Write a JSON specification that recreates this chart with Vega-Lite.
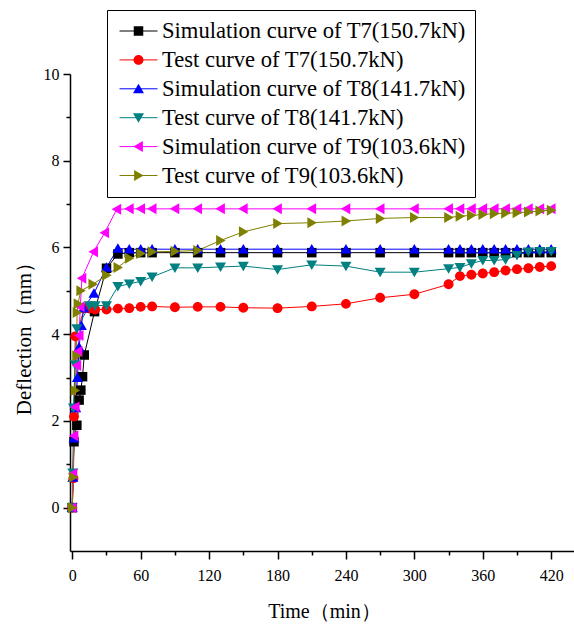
{
  "$schema": "https://vega.github.io/schema/vega-lite/v6.json",
  "autosize": "none",
  "width": 504,
  "height": 477,
  "padding": {"left": 70, "top": 74, "right": 0, "bottom": 73},
  "background": "white",
  "config": {
    "view": {"stroke": null},
    "axis": {
      "grid": false,
      "domainColor": "black",
      "domainWidth": 1.5,
      "tickColor": "black",
      "tickWidth": 1.5,
      "labelFont": "Liberation Sans Narrow",
      "labelFontSize": 16,
      "labelColor": "black",
      "titleFont": "Liberation Serif",
      "titleFontSize": 20,
      "titleFontWeight": "normal",
      "titleColor": "black"
    },
    "legend": {
      "title": null,
      "orient": "none",
      "legendX": 37,
      "legendY": -64,
      "padding": 9,
      "symbolSize": 1444,
      "symbolStrokeWidth": 1,
      "clipHeight": 24,
      "rowPadding": 4.9,
      "symbolOffset": 3,
      "labelOffset": 4,
      "labelFont": "Liberation Serif",
      "labelFontSize": 22.6,
      "labelColor": "black",
      "labelLimit": 400,
      "labelExpr": "(indexof(datum.label, 'Test') == 0 ? '\u2009' : '') + datum.label"
    }
  },
  "data": {
    "values": [
      {"series": "Simulation curve of T7(150.7kN)", "t": 0, "d": 0},
      {"series": "Simulation curve of T7(150.7kN)", "t": 1.5, "d": 1.52},
      {"series": "Simulation curve of T7(150.7kN)", "t": 4, "d": 1.9},
      {"series": "Simulation curve of T7(150.7kN)", "t": 6, "d": 2.48},
      {"series": "Simulation curve of T7(150.7kN)", "t": 7.5, "d": 2.71},
      {"series": "Simulation curve of T7(150.7kN)", "t": 9, "d": 3.02},
      {"series": "Simulation curve of T7(150.7kN)", "t": 10.5, "d": 3.52},
      {"series": "Simulation curve of T7(150.7kN)", "t": 19.5, "d": 4.52},
      {"series": "Simulation curve of T7(150.7kN)", "t": 30, "d": 5.52},
      {"series": "Simulation curve of T7(150.7kN)", "t": 40, "d": 5.85},
      {"series": "Simulation curve of T7(150.7kN)", "t": 50, "d": 5.88},
      {"series": "Simulation curve of T7(150.7kN)", "t": 60, "d": 5.88},
      {"series": "Simulation curve of T7(150.7kN)", "t": 70, "d": 5.88},
      {"series": "Simulation curve of T7(150.7kN)", "t": 90, "d": 5.88},
      {"series": "Simulation curve of T7(150.7kN)", "t": 110, "d": 5.88},
      {"series": "Simulation curve of T7(150.7kN)", "t": 130, "d": 5.88},
      {"series": "Simulation curve of T7(150.7kN)", "t": 150, "d": 5.88},
      {"series": "Simulation curve of T7(150.7kN)", "t": 180, "d": 5.88},
      {"series": "Simulation curve of T7(150.7kN)", "t": 210, "d": 5.88},
      {"series": "Simulation curve of T7(150.7kN)", "t": 240, "d": 5.88},
      {"series": "Simulation curve of T7(150.7kN)", "t": 270, "d": 5.88},
      {"series": "Simulation curve of T7(150.7kN)", "t": 300, "d": 5.88},
      {"series": "Simulation curve of T7(150.7kN)", "t": 330, "d": 5.88},
      {"series": "Simulation curve of T7(150.7kN)", "t": 340, "d": 5.88},
      {"series": "Simulation curve of T7(150.7kN)", "t": 350, "d": 5.88},
      {"series": "Simulation curve of T7(150.7kN)", "t": 360, "d": 5.88},
      {"series": "Simulation curve of T7(150.7kN)", "t": 370, "d": 5.88},
      {"series": "Simulation curve of T7(150.7kN)", "t": 380, "d": 5.88},
      {"series": "Simulation curve of T7(150.7kN)", "t": 390, "d": 5.88},
      {"series": "Simulation curve of T7(150.7kN)", "t": 400, "d": 5.88},
      {"series": "Simulation curve of T7(150.7kN)", "t": 410, "d": 5.88},
      {"series": "Simulation curve of T7(150.7kN)", "t": 420, "d": 5.88},

      {"series": "Test curve of T7(150.7kN)", "t": 0, "d": 0},
      {"series": "Test curve of T7(150.7kN)", "t": 1, "d": 0.68},
      {"series": "Test curve of T7(150.7kN)", "t": 1.5, "d": 2.1},
      {"series": "Test curve of T7(150.7kN)", "t": 2.6, "d": 3.95},
      {"series": "Test curve of T7(150.7kN)", "t": 11, "d": 4.6},
      {"series": "Test curve of T7(150.7kN)", "t": 15, "d": 4.59},
      {"series": "Test curve of T7(150.7kN)", "t": 20, "d": 4.57},
      {"series": "Test curve of T7(150.7kN)", "t": 30, "d": 4.57},
      {"series": "Test curve of T7(150.7kN)", "t": 40, "d": 4.59},
      {"series": "Test curve of T7(150.7kN)", "t": 50, "d": 4.6},
      {"series": "Test curve of T7(150.7kN)", "t": 60, "d": 4.63},
      {"series": "Test curve of T7(150.7kN)", "t": 70, "d": 4.64},
      {"series": "Test curve of T7(150.7kN)", "t": 90, "d": 4.62},
      {"series": "Test curve of T7(150.7kN)", "t": 110, "d": 4.63},
      {"series": "Test curve of T7(150.7kN)", "t": 130, "d": 4.63},
      {"series": "Test curve of T7(150.7kN)", "t": 150, "d": 4.61},
      {"series": "Test curve of T7(150.7kN)", "t": 180, "d": 4.6},
      {"series": "Test curve of T7(150.7kN)", "t": 210, "d": 4.64},
      {"series": "Test curve of T7(150.7kN)", "t": 240, "d": 4.7},
      {"series": "Test curve of T7(150.7kN)", "t": 270, "d": 4.84},
      {"series": "Test curve of T7(150.7kN)", "t": 300, "d": 4.92},
      {"series": "Test curve of T7(150.7kN)", "t": 330, "d": 5.15},
      {"series": "Test curve of T7(150.7kN)", "t": 340, "d": 5.34},
      {"series": "Test curve of T7(150.7kN)", "t": 350, "d": 5.37},
      {"series": "Test curve of T7(150.7kN)", "t": 360, "d": 5.4},
      {"series": "Test curve of T7(150.7kN)", "t": 370, "d": 5.43},
      {"series": "Test curve of T7(150.7kN)", "t": 380, "d": 5.47},
      {"series": "Test curve of T7(150.7kN)", "t": 390, "d": 5.5},
      {"series": "Test curve of T7(150.7kN)", "t": 400, "d": 5.52},
      {"series": "Test curve of T7(150.7kN)", "t": 410, "d": 5.55},
      {"series": "Test curve of T7(150.7kN)", "t": 420, "d": 5.57},

      {"series": "Simulation curve of T8(141.7kN)", "t": 0, "d": 0},
      {"series": "Simulation curve of T8(141.7kN)", "t": 0.5, "d": 0.7},
      {"series": "Simulation curve of T8(141.7kN)", "t": 1.5, "d": 1.6},
      {"series": "Simulation curve of T8(141.7kN)", "t": 3, "d": 2.3},
      {"series": "Simulation curve of T8(141.7kN)", "t": 4.5, "d": 3.0},
      {"series": "Simulation curve of T8(141.7kN)", "t": 6, "d": 3.7},
      {"series": "Simulation curve of T8(141.7kN)", "t": 8, "d": 4.2},
      {"series": "Simulation curve of T8(141.7kN)", "t": 10, "d": 4.6},
      {"series": "Simulation curve of T8(141.7kN)", "t": 19, "d": 4.94},
      {"series": "Simulation curve of T8(141.7kN)", "t": 30, "d": 5.54},
      {"series": "Simulation curve of T8(141.7kN)", "t": 40, "d": 5.98},
      {"series": "Simulation curve of T8(141.7kN)", "t": 50, "d": 5.96},
      {"series": "Simulation curve of T8(141.7kN)", "t": 60, "d": 5.96},
      {"series": "Simulation curve of T8(141.7kN)", "t": 70, "d": 5.96},
      {"series": "Simulation curve of T8(141.7kN)", "t": 90, "d": 5.96},
      {"series": "Simulation curve of T8(141.7kN)", "t": 110, "d": 5.96},
      {"series": "Simulation curve of T8(141.7kN)", "t": 130, "d": 5.96},
      {"series": "Simulation curve of T8(141.7kN)", "t": 150, "d": 5.96},
      {"series": "Simulation curve of T8(141.7kN)", "t": 180, "d": 5.96},
      {"series": "Simulation curve of T8(141.7kN)", "t": 210, "d": 5.96},
      {"series": "Simulation curve of T8(141.7kN)", "t": 240, "d": 5.96},
      {"series": "Simulation curve of T8(141.7kN)", "t": 270, "d": 5.96},
      {"series": "Simulation curve of T8(141.7kN)", "t": 300, "d": 5.96},
      {"series": "Simulation curve of T8(141.7kN)", "t": 330, "d": 5.96},
      {"series": "Simulation curve of T8(141.7kN)", "t": 340, "d": 5.96},
      {"series": "Simulation curve of T8(141.7kN)", "t": 350, "d": 5.96},
      {"series": "Simulation curve of T8(141.7kN)", "t": 360, "d": 5.96},
      {"series": "Simulation curve of T8(141.7kN)", "t": 370, "d": 5.96},
      {"series": "Simulation curve of T8(141.7kN)", "t": 380, "d": 5.96},
      {"series": "Simulation curve of T8(141.7kN)", "t": 390, "d": 5.96},
      {"series": "Simulation curve of T8(141.7kN)", "t": 400, "d": 5.96},
      {"series": "Simulation curve of T8(141.7kN)", "t": 410, "d": 5.96},
      {"series": "Simulation curve of T8(141.7kN)", "t": 420, "d": 5.96},

      {"series": "Test curve of T8(141.7kN)", "t": 0, "d": 0},
      {"series": "Test curve of T8(141.7kN)", "t": 0.5, "d": 0.8},
      {"series": "Test curve of T8(141.7kN)", "t": 1, "d": 2.3},
      {"series": "Test curve of T8(141.7kN)", "t": 2.5, "d": 3.3},
      {"series": "Test curve of T8(141.7kN)", "t": 4, "d": 4.13},
      {"series": "Test curve of T8(141.7kN)", "t": 15, "d": 4.66},
      {"series": "Test curve of T8(141.7kN)", "t": 20, "d": 4.66},
      {"series": "Test curve of T8(141.7kN)", "t": 30, "d": 4.66},
      {"series": "Test curve of T8(141.7kN)", "t": 40, "d": 5.1},
      {"series": "Test curve of T8(141.7kN)", "t": 50, "d": 5.16},
      {"series": "Test curve of T8(141.7kN)", "t": 60, "d": 5.22},
      {"series": "Test curve of T8(141.7kN)", "t": 70, "d": 5.32},
      {"series": "Test curve of T8(141.7kN)", "t": 90, "d": 5.53},
      {"series": "Test curve of T8(141.7kN)", "t": 110, "d": 5.53},
      {"series": "Test curve of T8(141.7kN)", "t": 130, "d": 5.55},
      {"series": "Test curve of T8(141.7kN)", "t": 150, "d": 5.57},
      {"series": "Test curve of T8(141.7kN)", "t": 180, "d": 5.49},
      {"series": "Test curve of T8(141.7kN)", "t": 210, "d": 5.6},
      {"series": "Test curve of T8(141.7kN)", "t": 240, "d": 5.57},
      {"series": "Test curve of T8(141.7kN)", "t": 270, "d": 5.43},
      {"series": "Test curve of T8(141.7kN)", "t": 300, "d": 5.43},
      {"series": "Test curve of T8(141.7kN)", "t": 330, "d": 5.51},
      {"series": "Test curve of T8(141.7kN)", "t": 340, "d": 5.54},
      {"series": "Test curve of T8(141.7kN)", "t": 350, "d": 5.63},
      {"series": "Test curve of T8(141.7kN)", "t": 360, "d": 5.7},
      {"series": "Test curve of T8(141.7kN)", "t": 370, "d": 5.7},
      {"series": "Test curve of T8(141.7kN)", "t": 380, "d": 5.72},
      {"series": "Test curve of T8(141.7kN)", "t": 390, "d": 5.82},
      {"series": "Test curve of T8(141.7kN)", "t": 400, "d": 5.9},
      {"series": "Test curve of T8(141.7kN)", "t": 410, "d": 5.91},
      {"series": "Test curve of T8(141.7kN)", "t": 420, "d": 5.91},

      {"series": "Simulation curve of T9(103.6kN)", "t": 0, "d": 0},
      {"series": "Simulation curve of T9(103.6kN)", "t": 0.5, "d": 0.78},
      {"series": "Simulation curve of T9(103.6kN)", "t": 1.5, "d": 1.66},
      {"series": "Simulation curve of T9(103.6kN)", "t": 2.5, "d": 2.32},
      {"series": "Simulation curve of T9(103.6kN)", "t": 4, "d": 3.28},
      {"series": "Simulation curve of T9(103.6kN)", "t": 5, "d": 3.6},
      {"series": "Simulation curve of T9(103.6kN)", "t": 6, "d": 3.97},
      {"series": "Simulation curve of T9(103.6kN)", "t": 7, "d": 4.63},
      {"series": "Simulation curve of T9(103.6kN)", "t": 8.5, "d": 5.29},
      {"series": "Simulation curve of T9(103.6kN)", "t": 18.7, "d": 5.9},
      {"series": "Simulation curve of T9(103.6kN)", "t": 28.4, "d": 6.34},
      {"series": "Simulation curve of T9(103.6kN)", "t": 39, "d": 6.88},
      {"series": "Simulation curve of T9(103.6kN)", "t": 50, "d": 6.89},
      {"series": "Simulation curve of T9(103.6kN)", "t": 60, "d": 6.89},
      {"series": "Simulation curve of T9(103.6kN)", "t": 70, "d": 6.89},
      {"series": "Simulation curve of T9(103.6kN)", "t": 90, "d": 6.89},
      {"series": "Simulation curve of T9(103.6kN)", "t": 110, "d": 6.89},
      {"series": "Simulation curve of T9(103.6kN)", "t": 130, "d": 6.89},
      {"series": "Simulation curve of T9(103.6kN)", "t": 150, "d": 6.89},
      {"series": "Simulation curve of T9(103.6kN)", "t": 180, "d": 6.89},
      {"series": "Simulation curve of T9(103.6kN)", "t": 210, "d": 6.89},
      {"series": "Simulation curve of T9(103.6kN)", "t": 240, "d": 6.89},
      {"series": "Simulation curve of T9(103.6kN)", "t": 270, "d": 6.89},
      {"series": "Simulation curve of T9(103.6kN)", "t": 300, "d": 6.89},
      {"series": "Simulation curve of T9(103.6kN)", "t": 330, "d": 6.89},
      {"series": "Simulation curve of T9(103.6kN)", "t": 340, "d": 6.89},
      {"series": "Simulation curve of T9(103.6kN)", "t": 350, "d": 6.89},
      {"series": "Simulation curve of T9(103.6kN)", "t": 360, "d": 6.89},
      {"series": "Simulation curve of T9(103.6kN)", "t": 370, "d": 6.89},
      {"series": "Simulation curve of T9(103.6kN)", "t": 380, "d": 6.89},
      {"series": "Simulation curve of T9(103.6kN)", "t": 390, "d": 6.89},
      {"series": "Simulation curve of T9(103.6kN)", "t": 400, "d": 6.89},
      {"series": "Simulation curve of T9(103.6kN)", "t": 410, "d": 6.89},
      {"series": "Simulation curve of T9(103.6kN)", "t": 420, "d": 6.89},

      {"series": "Test curve of T9(103.6kN)", "t": 0, "d": 0},
      {"series": "Test curve of T9(103.6kN)", "t": 0.9, "d": 0.7},
      {"series": "Test curve of T9(103.6kN)", "t": 2.4, "d": 2.7},
      {"series": "Test curve of T9(103.6kN)", "t": 3.8, "d": 3.5},
      {"series": "Test curve of T9(103.6kN)", "t": 4.2, "d": 4.5},
      {"series": "Test curve of T9(103.6kN)", "t": 5, "d": 4.7},
      {"series": "Test curve of T9(103.6kN)", "t": 7.4, "d": 5.0},
      {"series": "Test curve of T9(103.6kN)", "t": 18, "d": 5.15},
      {"series": "Test curve of T9(103.6kN)", "t": 30, "d": 5.36},
      {"series": "Test curve of T9(103.6kN)", "t": 40, "d": 5.54},
      {"series": "Test curve of T9(103.6kN)", "t": 50, "d": 5.75},
      {"series": "Test curve of T9(103.6kN)", "t": 60, "d": 5.86},
      {"series": "Test curve of T9(103.6kN)", "t": 70, "d": 5.9},
      {"series": "Test curve of T9(103.6kN)", "t": 90, "d": 5.91},
      {"series": "Test curve of T9(103.6kN)", "t": 110, "d": 5.93},
      {"series": "Test curve of T9(103.6kN)", "t": 130, "d": 6.16},
      {"series": "Test curve of T9(103.6kN)", "t": 150, "d": 6.36},
      {"series": "Test curve of T9(103.6kN)", "t": 180, "d": 6.55},
      {"series": "Test curve of T9(103.6kN)", "t": 210, "d": 6.57},
      {"series": "Test curve of T9(103.6kN)", "t": 240, "d": 6.61},
      {"series": "Test curve of T9(103.6kN)", "t": 270, "d": 6.67},
      {"series": "Test curve of T9(103.6kN)", "t": 300, "d": 6.69},
      {"series": "Test curve of T9(103.6kN)", "t": 330, "d": 6.69},
      {"series": "Test curve of T9(103.6kN)", "t": 340, "d": 6.72},
      {"series": "Test curve of T9(103.6kN)", "t": 350, "d": 6.74},
      {"series": "Test curve of T9(103.6kN)", "t": 360, "d": 6.76},
      {"series": "Test curve of T9(103.6kN)", "t": 370, "d": 6.78},
      {"series": "Test curve of T9(103.6kN)", "t": 380, "d": 6.79},
      {"series": "Test curve of T9(103.6kN)", "t": 390, "d": 6.8},
      {"series": "Test curve of T9(103.6kN)", "t": 400, "d": 6.82},
      {"series": "Test curve of T9(103.6kN)", "t": 410, "d": 6.84},
      {"series": "Test curve of T9(103.6kN)", "t": 420, "d": 6.86}
    ]
  },
  "encoding": {
    "x": {
      "field": "t",
      "type": "quantitative",
      "scale": {"domain": [-2, 440], "nice": false, "zero": false},
      "axis": {
        "title": "Time（min）",
        "values": [0, 30, 60, 90, 120, 150, 180, 210, 240, 270, 300, 330, 360, 390, 420],
        "labelExpr": "datum.value % 60 == 0 ? datum.label : ''",
        "tickSize": {"condition": {"test": "datum.value % 60 != 0", "value": 4}, "value": 8},
        "labelPadding": 8,
        "labelFlush": false,
        "labelOverlap": false,
        "titleX": 254,
        "titleY": 60,
        "titleAlign": "center",
        "titleBaseline": "middle"
      }
    },
    "y": {
      "field": "d",
      "type": "quantitative",
      "scale": {"domain": [-1, 10], "nice": false, "zero": false},
      "axis": {
        "title": "Deflection（mm）",
        "values": [0, 1, 2, 3, 4, 5, 6, 7, 8, 9, 10],
        "labelExpr": "datum.value % 2 == 0 ? datum.label : ''",
        "tickSize": {"condition": {"test": "datum.value % 2 != 0", "value": 4}, "value": 7},
        "labelPadding": 4,
        "labelFlush": false,
        "labelOverlap": false,
        "titleX": -46,
        "titleY": 259,
        "titleAngle": -90,
        "titleFontSize": 21,
        "titleAlign": "center",
        "titleBaseline": "middle"
      }
    }
  },
  "resolve": {"legend": {"stroke": "independent"}},
  "layer": [
    {
      "mark": {"type": "line", "strokeWidth": 1},
      "encoding": {
        "stroke": {
          "field": "series",
          "type": "nominal",
          "scale": {
            "domain": ["Simulation curve of T7(150.7kN)", "Test curve of T7(150.7kN)", "Simulation curve of T8(141.7kN)", "Test curve of T8(141.7kN)", "Simulation curve of T9(103.6kN)", "Test curve of T9(103.6kN)"],
            "range": ["#000000", "#FF0000", "#0000FF", "#008080", "#FF00FF", "#808000"]
          },
          "legend": {
            "symbolType": "stroke",
            "labelOpacity": 0
          }
        }
      }
    },
    {
      "mark": {"type": "point", "filled": true, "size": 1444, "opacity": 1},
      "encoding": {
        "color": {
          "field": "series",
          "type": "nominal",
          "scale": {
            "domain": ["Simulation curve of T7(150.7kN)", "Test curve of T7(150.7kN)", "Simulation curve of T8(141.7kN)", "Test curve of T8(141.7kN)", "Simulation curve of T9(103.6kN)", "Test curve of T9(103.6kN)"],
            "range": ["#000000", "#FF0000", "#0000FF", "#008080", "#FF00FF", "#808000"]
          },
          "legend": {
            "strokeColor": "black"
          }
        },
        "shape": {
          "field": "series",
          "type": "nominal",
          "scale": {
            "domain": ["Simulation curve of T7(150.7kN)", "Test curve of T7(150.7kN)", "Simulation curve of T8(141.7kN)", "Test curve of T8(141.7kN)", "Simulation curve of T9(103.6kN)", "Test curve of T9(103.6kN)"],
            "range": [
              "M-0.25,-0.25H0.25V0.25H-0.25Z",
              "M-0.26,0A0.26,0.26,0,1,0,0.26,0A0.26,0.26,0,1,0,-0.26,0Z",
              "M0,-0.27L0.29,0.23L-0.29,0.23Z",
              "M0,0.27L0.29,-0.23L-0.29,-0.23Z",
              "M-0.27,0L0.23,-0.29L0.23,0.29Z",
              "M0.27,0L-0.23,-0.29L-0.23,0.29Z"
            ]
          },
          "legend": {
            "strokeColor": "black"
          }
        }
      }
    }
  ]
}
